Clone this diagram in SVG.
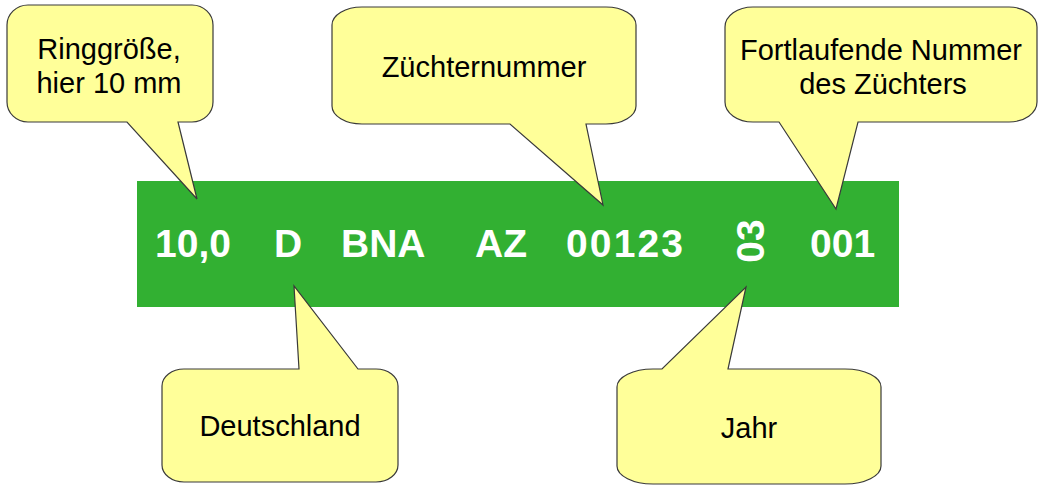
<svg xmlns="http://www.w3.org/2000/svg" width="1039" height="486" viewBox="0 0 1039 486">
<style>
.callout{fill:#ffff99;stroke:#3a3a3a;stroke-width:1.2}
.lbl{font-family:"Liberation Sans",Arial,sans-serif;font-size:29px;fill:#000;text-anchor:middle}
.ring{font-family:"Liberation Sans",Arial,sans-serif;font-weight:bold;font-size:39px;fill:#fff}
</style>
<rect width="1039" height="486" fill="#fff"/>
<g id="ring">
<rect x="137" y="181" width="762" height="126" fill="#32b032"/>
<text class="ring" x="155" y="257">10,0</text>
<text class="ring" x="274" y="257">D</text>
<text class="ring" x="341" y="257">BNA</text>
<text class="ring" x="475" y="257">AZ</text>
<text class="ring" x="566" y="257" textLength="117" lengthAdjust="spacing">00123</text>
<text class="ring" x="752" y="253" font-size="35" text-anchor="middle" transform="rotate(-90 752 241)">03</text>
<text class="ring" x="810" y="257">001</text>
</g>
<g id="ringgroesse">
<path class="callout" d="M28,5 H192 A21,20 0 0 1 213,25 V102 A21,20 0 0 1 192,122 H178 L197,199 L127,122 H28 A21,20 0 0 1 7,102 V25 A21,20 0 0 1 28,5 Z"/>
<text class="lbl" x="109" y="59">Ringgröße,</text>
<text class="lbl" x="109" y="93">hier 10 mm</text>
</g>
<g id="zuechternummer">
<path class="callout" d="M362,7 H606 A30,18 0 0 1 636,25 V106 A30,18 0 0 1 606,124 H586 L603,205 L510,124 H362 A30,18 0 0 1 332,106 V25 A30,18 0 0 1 362,7 Z"/>
<text class="lbl" x="484" y="77">Züchternummer</text>
</g>
<g id="fortlaufend">
<path class="callout" d="M753,7 H1009 A28,20 0 0 1 1037,27 V102 A28,20 0 0 1 1009,122 H858 L836,209 L779,122 H753 A28,20 0 0 1 725,102 V27 A28,20 0 0 1 753,7 Z"/>
<text class="lbl" x="881" y="60">Fortlaufende Nummer</text>
<text class="lbl" x="883" y="94">des Züchters</text>
</g>
<g id="deutschland">
<path class="callout" d="M184,369 H299 L294,286 L358,369 H376 A22,17 0 0 1 398,386 V465 A22,17 0 0 1 376,482 H184 A22,17 0 0 1 162,465 V386 A22,17 0 0 1 184,369 Z"/>
<text class="lbl" x="280" y="436">Deutschland</text>
</g>
<g id="jahr">
<path class="callout" d="M653,369 H662 L746,287 L728,369 H845 A36,18 0 0 1 881,387 V466 A36,18 0 0 1 845,484 H653 A36,18 0 0 1 617,466 V387 A36,18 0 0 1 653,369 Z"/>
<text class="lbl" x="749" y="438">Jahr</text>
</g>
</svg>
